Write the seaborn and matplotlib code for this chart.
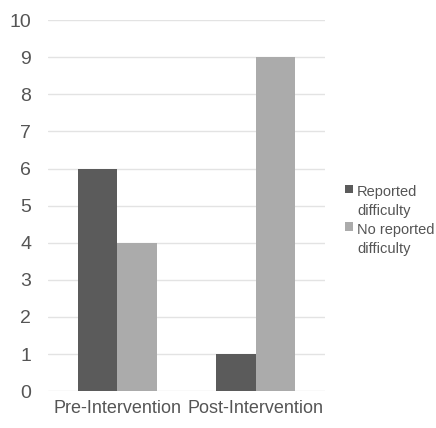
import pandas as pd
from matplotlib import pyplot as plt
from matplotlib.patches import Rectangle
from matplotlib.legend_handler import HandlerPatch
import seaborn as sns

# chart data
phases = ['Pre-Intervention', 'Post-Intervention']
reported = [6, 1]
not_reported = [4, 9]
groups = ['Reported\ndifficulty', 'No reported\ndifficulty']

df = pd.DataFrame({
    'phase': phases * 2,
    'group': [groups[0]] * len(phases) + [groups[1]] * len(phases),
    'count': reported + not_reported,
})

sns.set_theme(style='white')
plt.rcParams['font.family'] = ['Liberation Sans', 'DejaVu Sans']

fig = plt.figure(figsize=(4.36, 4.28), dpi=100)
ax = fig.add_axes([0.11, 0.086, 0.635, 0.867])

sns.barplot(
    data=df, x='phase', y='count', hue='group',
    palette=['#5b5b5b', '#ababab'], width=0.57,
    saturation=1, ax=ax, errorbar=None, linewidth=0
)

ax.set_ylim(0, 10)
ax.set_xlim(-0.5, 1.5)
ax.set_yticks(range(0, 11))
ax.yaxis.grid(True, color='#e3e3e3', linewidth=1)
ax.set_axisbelow(True)
for s in ax.spines.values():
    s.set_visible(False)
ax.set_xlabel('')
ax.set_ylabel('')
ax.tick_params(axis='y', length=0, pad=12, labelsize=14, labelcolor='#555555')
ax.tick_params(axis='x', length=0, pad=6, labelsize=13, labelcolor='#555555')


def top_square(legend, orig_handle, xdescent, ydescent, width, height, fontsize):
    # square marker aligned with the first line of a two-line label
    size = 0.6 * fontsize
    return Rectangle((width - size, 0.95 * fontsize), size, size)


handles, labels = ax.get_legend_handles_labels()
ax.get_legend().remove()
leg = fig.legend(handles, labels, loc='center left', bbox_to_anchor=(0.777, 0.485),
                 frameon=False, fontsize=10.5, labelcolor='#555555',
                 handlelength=0.6, handleheight=0.6, handletextpad=0.25,
                 labelspacing=0.3, borderaxespad=0,
                 handler_map={Rectangle: HandlerPatch(patch_func=top_square)})
for t in leg.get_texts():
    t.set_linespacing(1.45)

fig.savefig('out.png', dpi=100)
plt.close(fig)
